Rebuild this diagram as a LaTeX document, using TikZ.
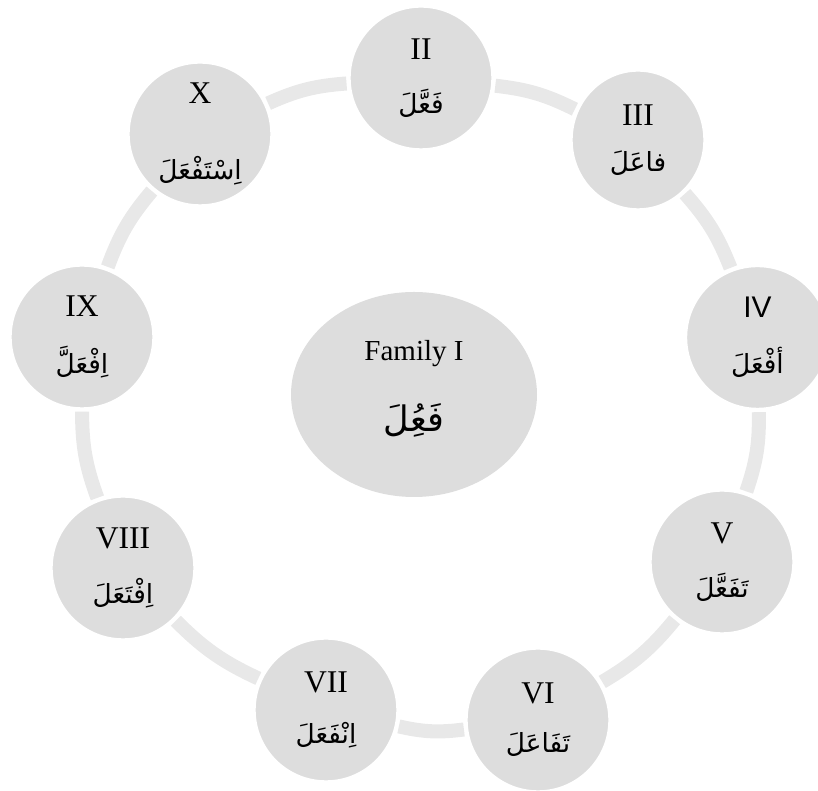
\documentclass[tikz,border=0pt]{standalone}
\usepackage{fontspec}
\usetikzlibrary{shapes.geometric}
\setmainfont{Liberation Serif}
\newfontfamily\arabicfont[Script=Arabic]{DejaVu Sans}
\newfontfamily\sansnum{Liberation Sans}
\TeXXeTstate=1
\definecolor{formgray}{RGB}{221,221,221}
\definecolor{ringgray}{RGB}{232,232,232}
\newcommand{\wazn}[1]{{\arabicfont\fontsize{15}{17}\selectfont\beginR #1\endR}}
\newcommand{\numeral}[1]{{\fontsize{18}{20}\selectfont #1}}

\begin{document}
\begin{tikzpicture}[
    form/.style={circle, fill=formgray, draw=white, line width=2.5pt, minimum size=2.9cm, inner sep=0pt, align=center},
    ring/.style={draw=ringgray, line width=8pt},
    ]
    \useasboundingbox (0,0) rectangle (16.36,15.82);

    % Family I in the middle
    \node[ellipse, fill=formgray, minimum width=4.92cm, minimum height=4.1cm, inner sep=0pt, align=center] (I) at (8.28,7.93)
        {{\fontsize{16.5}{18}\selectfont Family I}\\[20pt]{\arabicfont\fontsize{20}{22}\selectfont\beginR فَعُِلَ\endR}\\[-2pt]};

    % Derived forms round the ring
    \node[form] (II)   at (8.42,14.26) {\numeral{II}\\[16pt]\wazn{فَعَّلَ}};
    \node[form, ellipse, minimum width=2.7cm, minimum height=2.82cm] (III) at (12.76,13.02) {\numeral{III}\\[14pt]\wazn{فاعَلَ}};
    \node[form] (IV)   at (15.15,9.07)  {{\sansnum\fontsize{17}{19}\selectfont IV}\\[16pt]\wazn{أفْعَلَ}};
    \node[form] (V)    at (14.44,4.58)  {\numeral{V}\\[16pt]\wazn{تَفَعَّلَ}};
    \node[form] (VI)   at (10.76,1.42)  {\numeral{VI}\\[16pt]\wazn{تَفَاعَلَ}};
    \node[form] (VII)  at (6.52,1.62)   {\numeral{VII}\\[16pt]\wazn{اِنْفَعَلَ}};
    \node[form] (VIII) at (2.46,4.46)   {\numeral{VIII}\\[16pt]\wazn{اِفْتَعَلَ}};
    \node[form] (IX)   at (1.64,9.08)   {\numeral{IX}\\[16pt]\wazn{اِفْعَلَّ}};
    \node[form] (X)    at (4.00,13.14)  {\numeral{X}\\[29pt]\wazn{اِسْتَفْعَلَ}};

    % Ring between the forms
    \draw[ring] (II) to[bend left=10] (III);
    \draw[ring] (III) to[bend left=10] (IV);
    \draw[ring] (IV) to[bend left=10] (V);
    \draw[ring] (V) to[bend left=10] (VI);
    \draw[ring] (VI) to[bend left=10] (VII);
    \draw[ring] (VII) to[bend left=10] (VIII);
    \draw[ring] (VIII) to[bend left=10] (IX);
    \draw[ring] (IX) to[bend left=10] (X);
    \draw[ring] (X) to[bend left=10] (II);
\end{tikzpicture}
\end{document}
